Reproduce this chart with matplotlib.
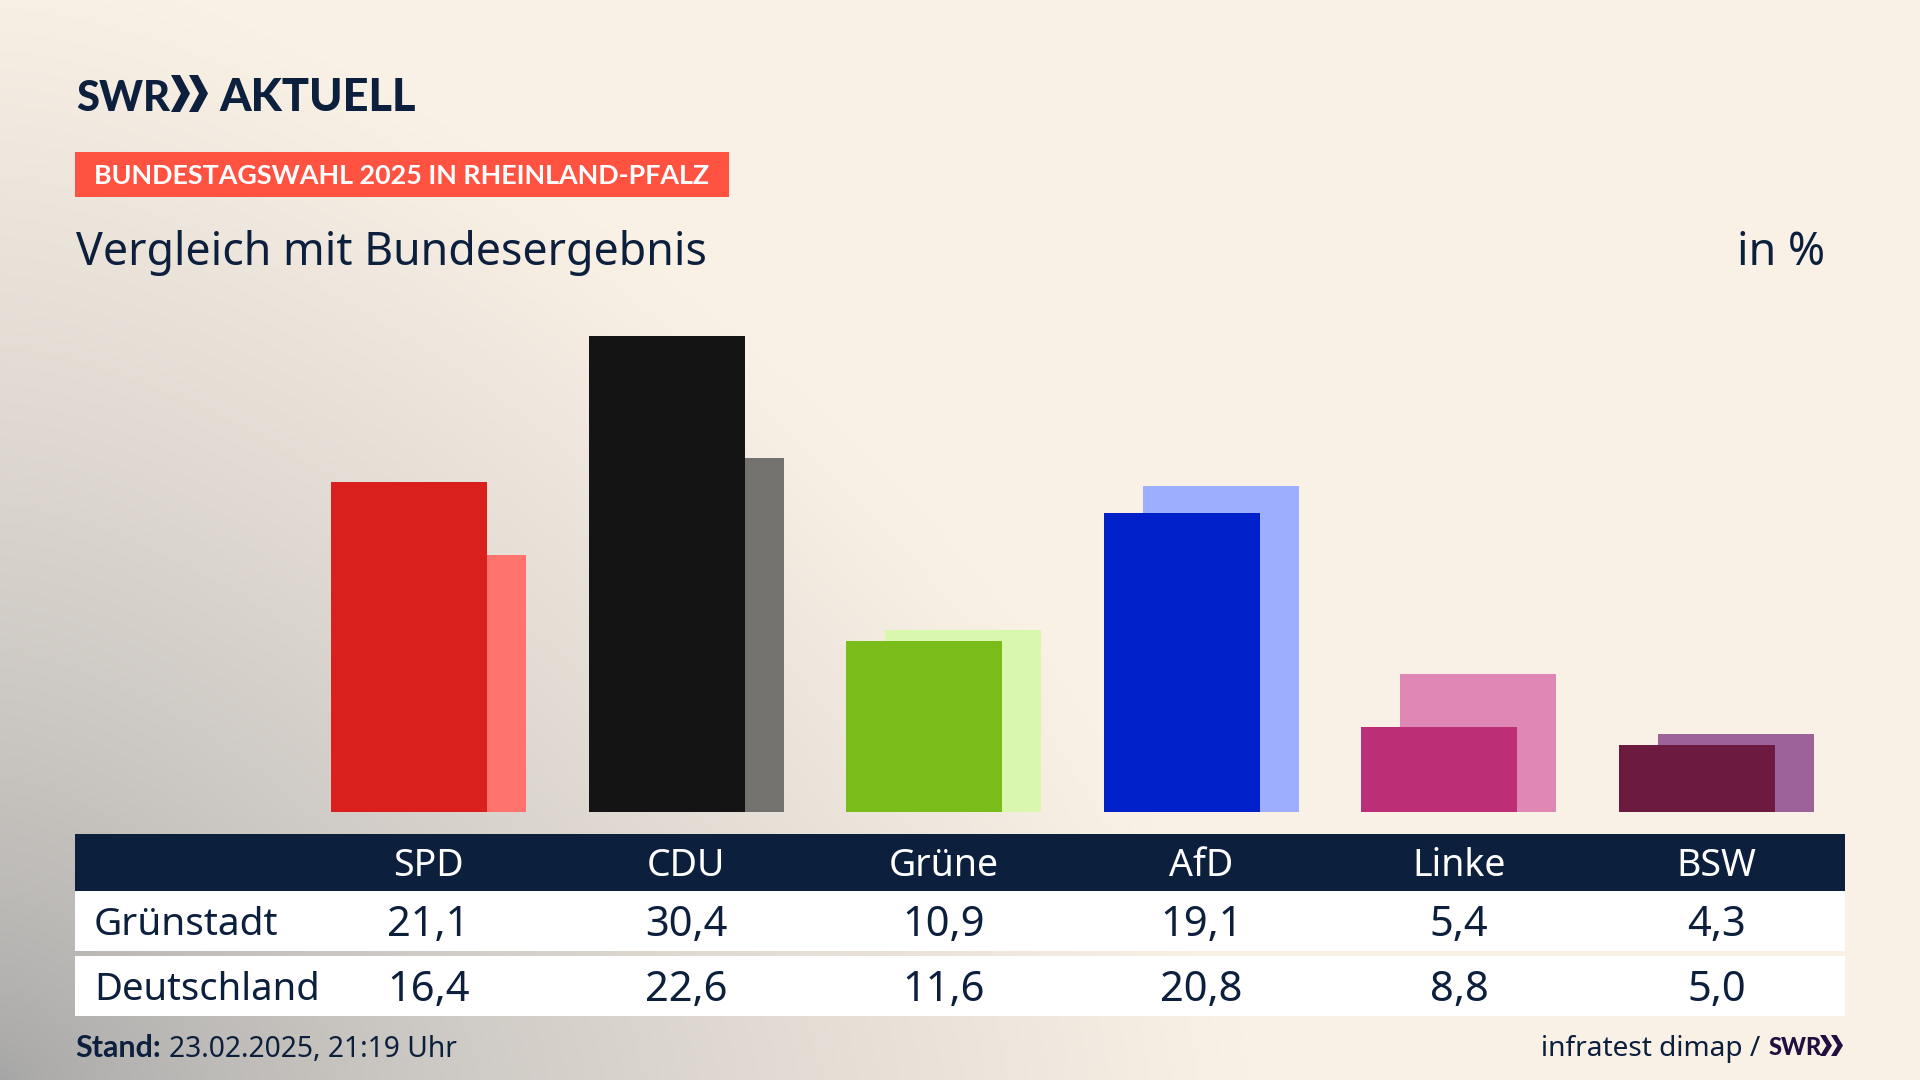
import numpy as np
import matplotlib
matplotlib.use("Agg")
import matplotlib.pyplot as plt
from matplotlib.patches import Rectangle, Polygon

plt.rcParams['font.family'] = ['Noto Sans', 'DejaVu Sans']

# Daten
parties = ["SPD", "CDU", "Grüne", "AfD", "Linke", "BSW"]
gruenstadt = [21.1, 30.4, 10.9, 19.1, 5.4, 4.3]
deutschland = [16.4, 22.6, 11.6, 20.8, 8.8, 5.0]
colors_dark = ["#D9201D", "#141414", "#7ABD1B", "#0021C9", "#BC2E75", "#6D1A40"]
colors_light = ["#FF736E", "#73726E", "#D9F7AD", "#9EAEFF", "#DF88B5", "#9C6299"]

NAVY = "#0C1F3D"
BOLD_FONT = ['Lato', 'DejaVu Sans']  # Noto Sans hat hier keinen Bold-Schnitt
W, H = 1920, 1080


def fmt(v):
    return f"{v:.1f}".replace(".", ",")


fig = plt.figure(figsize=(19.2, 10.8), dpi=100)

# Hintergrund: creme mit grauem Verlauf von links unten
bg = fig.add_axes([0, 0, 1, 1], zorder=0)
yy, xx = np.mgrid[0:H, 0:W]
d = ((xx / 1250) ** 1.5 + ((H - yy) / 1120) ** 1.5) ** (1 / 1.5)
t = np.clip(d, 0, 1)[..., None] ** 0.72
grey = np.array([165, 165, 165]) / 255
cream = np.array([250, 241, 230]) / 255
bg.imshow(grey + (cream - grey) * t, aspect='auto', extent=(0, W, H, 0))
bg.axis('off')

# Balken
group_step = 257.6
first_center = 428.6
base_y = 812
px_per_pct = 15.66
top_y = 240
ax = fig.add_axes([0, 1 - base_y / H, 1, (base_y - top_y) / H], zorder=1)
ax.set_xlim(-first_center / group_step, (W - first_center) / group_step)
ax.set_ylim(0, (base_y - top_y) / px_per_pct)
ax.patch.set_alpha(0)
ax.axis('off')
x = np.arange(len(parties))
bar_w = 156 / group_step
off = 19.5 / group_step
ax.bar(x + off, deutschland, bar_w, color=colors_light, linewidth=0)
ax.bar(x - off, gruenstadt, bar_w, color=colors_dark, linewidth=0)

# Alles andere in Pixelkoordinaten
ov = fig.add_axes([0, 0, 1, 1], zorder=2)
ov.set_xlim(0, W)
ov.set_ylim(H, 0)
ov.patch.set_alpha(0)
ov.axis('off')


def chevrons(x0, top, bottom, w, th, gap, color):
    mid = (top + bottom) / 2
    for i in range(2):
        xs = x0 + i * gap
        ov.add_patch(Polygon([(xs, top), (xs + th, top), (xs + w, mid), (xs + th, bottom),
                              (xs, bottom), (xs + w - th, mid)], closed=True, color=color, lw=0))


# Logo
ov.text(76, 111, "SWR", fontsize=30, fontweight='black', family=BOLD_FONT, color=NAVY, va='baseline')
chevrons(171, 75, 112, 19, 9, 18, NAVY)
ov.text(219, 111, "AKTUELL", fontsize=32.5, fontweight='black', family=BOLD_FONT, color=NAVY, va='baseline')

# Kopfzeilen
ov.add_patch(Rectangle((75, 152), 654, 45, color="#FF5240", lw=0))
ov.text(94, 184, "BUNDESTAGSWAHL 2025 IN RHEINLAND-PFALZ", fontsize=19.4, fontweight='bold',
        family=BOLD_FONT, color="white", va='baseline')
ov.text(76, 265, "Vergleich mit Bundesergebnis", fontsize=32.2, color=NAVY, va='baseline')
ov.text(1825, 265, "in %", fontsize=32.2, color=NAVY, va='baseline', ha='right')

# Tabelle
ov.add_patch(Rectangle((75, 834), 1770, 57, color=NAVY, lw=0))
ov.add_patch(Rectangle((75, 891), 1770, 60, color="white", lw=0))
ov.add_patch(Rectangle((75, 956), 1770, 60, color="white", lw=0))
ov.text(94, 935, "Grünstadt", fontsize=28, color=NAVY, va='baseline')
ov.text(94, 1000, "Deutschland", fontsize=27.5, color=NAVY, va='baseline')
for i, name in enumerate(parties):
    cx = first_center + i * group_step
    ov.text(cx, 876, name, fontsize=27, color="white", ha='center', va='baseline')
    ov.text(cx, 936, fmt(gruenstadt[i]), fontsize=30, color=NAVY, ha='center', va='baseline')
    ov.text(cx, 1001, fmt(deutschland[i]), fontsize=30, color=NAVY, ha='center', va='baseline')

# Fusszeile
ov.text(75, 1057, "Stand:", fontsize=22, fontweight='bold', family=BOLD_FONT, color=NAVY, va='baseline')
ov.text(169, 1057, "23.02.2025, 21:19 Uhr", fontsize=20.3, color=NAVY, va='baseline')
ov.text(1760, 1056, "infratest dimap /", fontsize=20.2, color=NAVY, va='baseline', ha='right')
ov.text(1769, 1055, "SWR", fontsize=17, fontweight='black', family=BOLD_FONT, color="#200F40", va='baseline')
chevrons(1820, 1035, 1056, 12, 5.5, 11, "#200F40")

fig.savefig("out.png", dpi=100)
